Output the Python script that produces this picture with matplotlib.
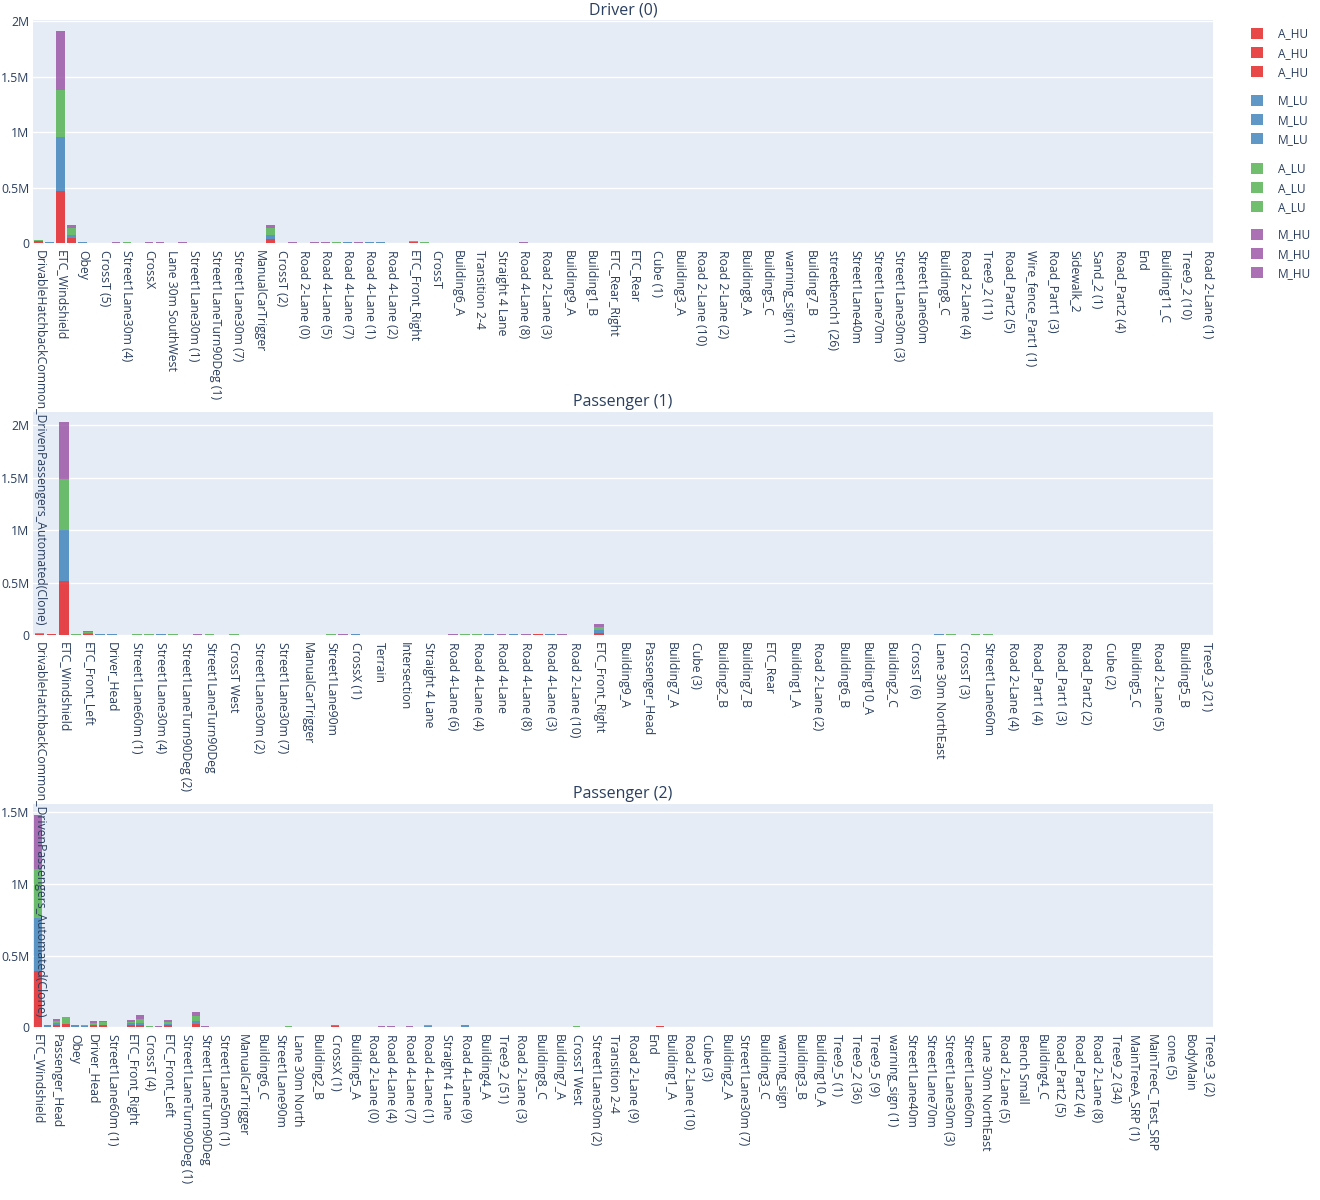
import numpy as np
import matplotlib
matplotlib.use('Agg')
import matplotlib.pyplot as plt
from matplotlib.ticker import FuncFormatter, MultipleLocator

plt.rcParams['font.family'] = ['Open Sans', 'DejaVu Sans']

# series names and colours (stack order bottom -> top)
SERIES = ['A_HU', 'M_LU', 'A_LU', 'M_HU']
COLORS = ['#E41A1C', '#377EB8', '#4DAF4A', '#984EA3']
TXT = '#2a3f5f'

# ---- Driver (0) ----
drv_n = 107
drv_labels = [
    'DrivableHatchbackCommon_DrivenPassengers_Automated(Clone)', 'ETC_Windshield', 'Obey',
    'CrossT (5)', 'Street1Lane30m (4)', 'CrossX', 'Lane 30m SouthWest', 'Street1Lane30m (1)',
    'Street1LaneTurn90Deg (1)', 'Street1Lane30m (7)', 'ManualCarTrigger', 'CrossT (2)',
    'Road 2-Lane (0)', 'Road 4-Lane (5)', 'Road 4-Lane (7)', 'Road 4-Lane (1)', 'Road 4-Lane (2)',
    'ETC_Front_Right', 'CrossT', 'Building6_A', 'Transition 2-4', 'Straight 4 Lane',
    'Road 4-Lane (8)', 'Road 2-Lane (3)', 'Building9_A', 'Building1_B', 'ETC_Rear_Right',
    'ETC_Rear', 'Cube (1)', 'Building3_A', 'Road 2-Lane (10)', 'Road 2-Lane (2)', 'Building8_A',
    'Building5_C', 'warning_sign (1)', 'Building7_B', 'streetbench1 (26)', 'Street1Lane40m',
    'Street1Lane70m', 'Street1Lane30m (3)', 'Street1Lane60m', 'Building8_C', 'Road 2-Lane (4)',
    'Tree9_2 (11)', 'Road_Part2 (5)', 'Wire_fence_Part1 (1)', 'Road_Part1 (3)', 'Sidewalk_2',
    'Sand_2 (1)', 'Road_Part2 (4)', 'End', 'Building11_C', 'Tree9_2 (10)', 'Road 2-Lane (1)']
# values per category index (unlisted = 0)
drv_a_hu = {0: 18000, 2: 472000, 3: 52000, 21: 42000, 34: 12000}
drv_m_lu = {1: 9000, 2: 481000, 3: 26000, 4: 9000, 21: 30000, 28: 9000, 30: 9000, 31: 9000}
drv_a_lu = {0: 14000, 2: 430000, 3: 61000, 8: 9000, 21: 62000, 27: 9000, 34: 7000, 35: 9000}
drv_m_hu = {2: 532000, 3: 26000, 7: 9000, 10: 9000, 11: 9000, 13: 9000, 21: 27000, 23: 9000,
            25: 9000, 26: 9000, 29: 9000, 34: 5000, 44: 9000}

# ---- Passenger (1) ----
p1_n = 97
p1_labels = [
    'DrivableHatchbackCommon_DrivenPassengers_Automated(Clone)', 'ETC_Windshield',
    'ETC_Front_Left', 'Driver_Head', 'Street1Lane60m (1)', 'Street1Lane30m (4)',
    'Street1LaneTurn90Deg (2)', 'Street1LaneTurn90Deg', 'CrossT West', 'Street1Lane30m (2)',
    'Street1Lane30m (7)', 'ManualCarTrigger', 'Street1Lane90m', 'CrossX (1)', 'Terrain',
    'Intersection', 'Straight 4 Lane', 'Road 4-Lane (6)', 'Road 4-Lane (4)', 'Road 4-Lane',
    'Road 4-Lane (8)', 'Road 4-Lane (3)', 'Road 2-Lane (10)', 'ETC_Front_Right', 'Building9_A',
    'Passenger_Head', 'Building7_A', 'Cube (3)', 'Building2_B', 'Building7_B', 'ETC_Rear',
    'Building1_A', 'Road 2-Lane (2)', 'Building6_B', 'Building10_A', 'Building2_C', 'CrossT (6)',
    'Lane 30m NorthEast', 'CrossT (3)', 'Street1Lane60m', 'Road 2-Lane (4)', 'Road_Part1 (4)',
    'Road_Part1 (3)', 'Road_Part2 (2)', 'Cube (2)', 'Building5_C', 'Road 2-Lane (5)',
    'Building5_B', 'Tree9_3 (21)']
p1_a_hu = {0: 10000, 1: 6000, 2: 517000, 4: 10000, 41: 8000, 46: 19000}
p1_m_lu = {2: 488000, 4: 8000, 5: 7000, 6: 7000, 10: 7000, 26: 7000, 37: 7000, 39: 5000,
           42: 7000, 46: 29000, 74: 7000}
p1_a_lu = {0: 12000, 1: 8000, 2: 488000, 3: 7000, 4: 8000, 8: 7000, 9: 7000, 11: 7000, 14: 7000,
           16: 7000, 24: 7000, 35: 7000, 36: 7000, 41: 6000, 46: 29000, 75: 7000, 77: 7000, 78: 7000}
p1_m_hu = {2: 536000, 4: 8000, 13: 7000, 25: 7000, 34: 7000, 38: 7000, 39: 8000, 40: 7000,
           43: 7000, 46: 29000}

# ---- Passenger (2) ----
p2_n = 127
p2_labels = [
    'ETC_Windshield', 'Passenger_Head', 'Obey', 'Driver_Head', 'Street1Lane60m (1)',
    'ETC_Front_Right', 'CrossT (4)', 'ETC_Front_Left', 'Street1LaneTurn90Deg (1)',
    'Street1LaneTurn90Deg', 'Street1Lane50m (1)', 'ManualCarTrigger', 'Building6_C',
    'Street1Lane90m', 'Lane 30m North', 'Building2_B', 'CrossX (1)', 'Building5_A',
    'Road 2-Lane (0)', 'Road 4-Lane (4)', 'Road 4-Lane (7)', 'Road 4-Lane (1)', 'Straight 4 Lane',
    'Road 4-Lane (9)', 'Building4_A', 'Tree9_2 (51)', 'Road 2-Lane (3)', 'Building8_C',
    'Building7_A', 'CrossT West', 'Street1Lane30m (2)', 'Transition 2-4', 'Road 2-Lane (9)', 'End',
    'Building1_A', 'Road 2-Lane (10)', 'Cube (3)', 'Building2_A', 'Street1Lane30m (7)',
    'Building3_C', 'warning_sign', 'Building3_B', 'Building10_A', 'Tree9_5 (1)', 'Tree9_2 (36)',
    'Tree9_5 (9)', 'warning_sign (1)', 'Street1Lane40m', 'Street1Lane70m', 'Street1Lane30m (3)',
    'Street1Lane60m', 'Lane 30m NorthEast', 'Road 2-Lane (5)', 'Bench Small', 'Building4_C',
    'Road_Part2 (5)', 'Road_Part2 (4)', 'Road 2-Lane (8)', 'Tree9_2 (34)', 'MainTreeA_SRP (1)',
    'MainTreeC_Test_SRP', 'cone (5)', 'BodyMain', 'Tree9_3 (2)']
p2_a_hu = {0: 389000, 2: 16000, 3: 26000, 6: 14000, 7: 14000, 10: 16000, 11: 16000, 12: 5000,
           14: 14000, 17: 26000, 27: 5000, 32: 9000, 46: 5000, 67: 6000}
p2_m_lu = {0: 372000, 1: 7000, 2: 14000, 4: 14000, 5: 9000, 6: 5000, 8: 3000, 9: 3000,
           10: 12000, 11: 12000, 13: 5000, 14: 9000, 17: 16000, 18: 5000, 25: 3000, 26: 3000,
           32: 5000, 37: 5000, 38: 5000, 40: 5000, 42: 8000, 46: 8000, 58: 5000, 69: 3000,
           97: 3000, 98: 3000, 100: 3000, 102: 3000}
p2_a_lu = {0: 344000, 1: 5000, 2: 14000, 3: 47000, 5: 5000, 6: 12000, 7: 23000, 10: 12000,
           11: 30000, 12: 5000, 14: 14000, 17: 37000, 27: 5000, 32: 2000, 42: 5000, 45: 3000,
           58: 7000, 65: 3000, 99: 3000}
p2_m_hu = {0: 377000, 1: 4000, 2: 14000, 4: 5000, 5: 2000, 6: 14000, 7: 7000, 10: 12000,
           11: 28000, 13: 5000, 14: 14000, 16: 3000, 17: 28000, 18: 5000, 19: 4000, 35: 3000,
           37: 5000, 38: 5000, 40: 5000, 42: 5000, 46: 5000, 51: 3000, 67: 6000}


def expand(d, n):
    arr = np.zeros(n)
    for k, v in d.items():
        arr[k] = v
    return arr


def fmt_m(v, pos):
    if v == 0:
        return '0'
    return f'{v / 1e6:g}M'


panels = [
    ('Driver (0)', drv_n, drv_labels, [drv_a_hu, drv_m_lu, drv_a_lu, drv_m_hu], 243.3),
    ('Passenger (1)', p1_n, p1_labels, [p1_a_hu, p1_m_lu, p1_a_lu, p1_m_hu], 635.0),
    ('Passenger (2)', p2_n, p2_labels, [p2_a_hu, p2_m_lu, p2_a_lu, p2_m_hu], 1027.3),
]

W, H = 1320, 1200
fig = plt.figure(figsize=(W / 100, H / 100), dpi=100)

all_handles = [[] for _ in SERIES]
for i, (title, n, labels, series, base_px) in enumerate(panels):
    ax = fig.add_axes([33.3 / W, 1 - base_px / H, (1212.7 - 33.3) / W, 223.3 / H])
    ax.set_zorder(3 - i)  # long tick labels overlap the panel below
    ax.set_facecolor('#E5ECF6')
    x = np.arange(n)
    bottom = np.zeros(n)
    for j, d in enumerate(series):
        vals = expand(d, n)
        bc = ax.bar(x, vals, width=0.8, bottom=bottom, color=COLORS[j], alpha=0.8,
                    linewidth=0, label=SERIES[j])
        all_handles[j].append(bc)
        bottom = bottom + vals
    ax.set_xlim(-0.5, n - 0.5)
    ax.set_ylim(0, bottom.max() * 1.05)
    ax.yaxis.set_major_locator(MultipleLocator(500000))
    ax.yaxis.set_major_formatter(FuncFormatter(fmt_m))
    ax.set_xticks(x[::2])
    ax.set_xticklabels(labels, rotation=-90, ha='center', va='top')
    ax.tick_params(axis='both', length=0, labelsize=8.8, colors=TXT)
    ax.tick_params(axis='x', pad=5)
    ax.tick_params(axis='y', pad=3)
    ax.yaxis.grid(True, color='white', linewidth=1)
    ax.set_axisbelow(True)
    for s in ax.spines.values():
        s.set_visible(False)
    ax.set_title(title, fontsize=11.5, color=TXT, pad=4)

# legend: one group per series, three entries each (one per panel)
group_tops = [27.5, 94.5, 162.5, 228.5]
for j, name in enumerate(SERIES):
    fig.legend(handles=all_handles[j], labels=[name] * 3, loc='upper left',
               bbox_to_anchor=(1250.7 / W, 1 - group_tops[j] / H), frameon=False,
               fontsize=8.6, handlelength=1.0, handleheight=1.0, handletextpad=1.25,
               labelspacing=0.52, borderpad=0, borderaxespad=0, labelcolor=TXT)

fig.savefig('out.png', dpi=100, facecolor='white')
